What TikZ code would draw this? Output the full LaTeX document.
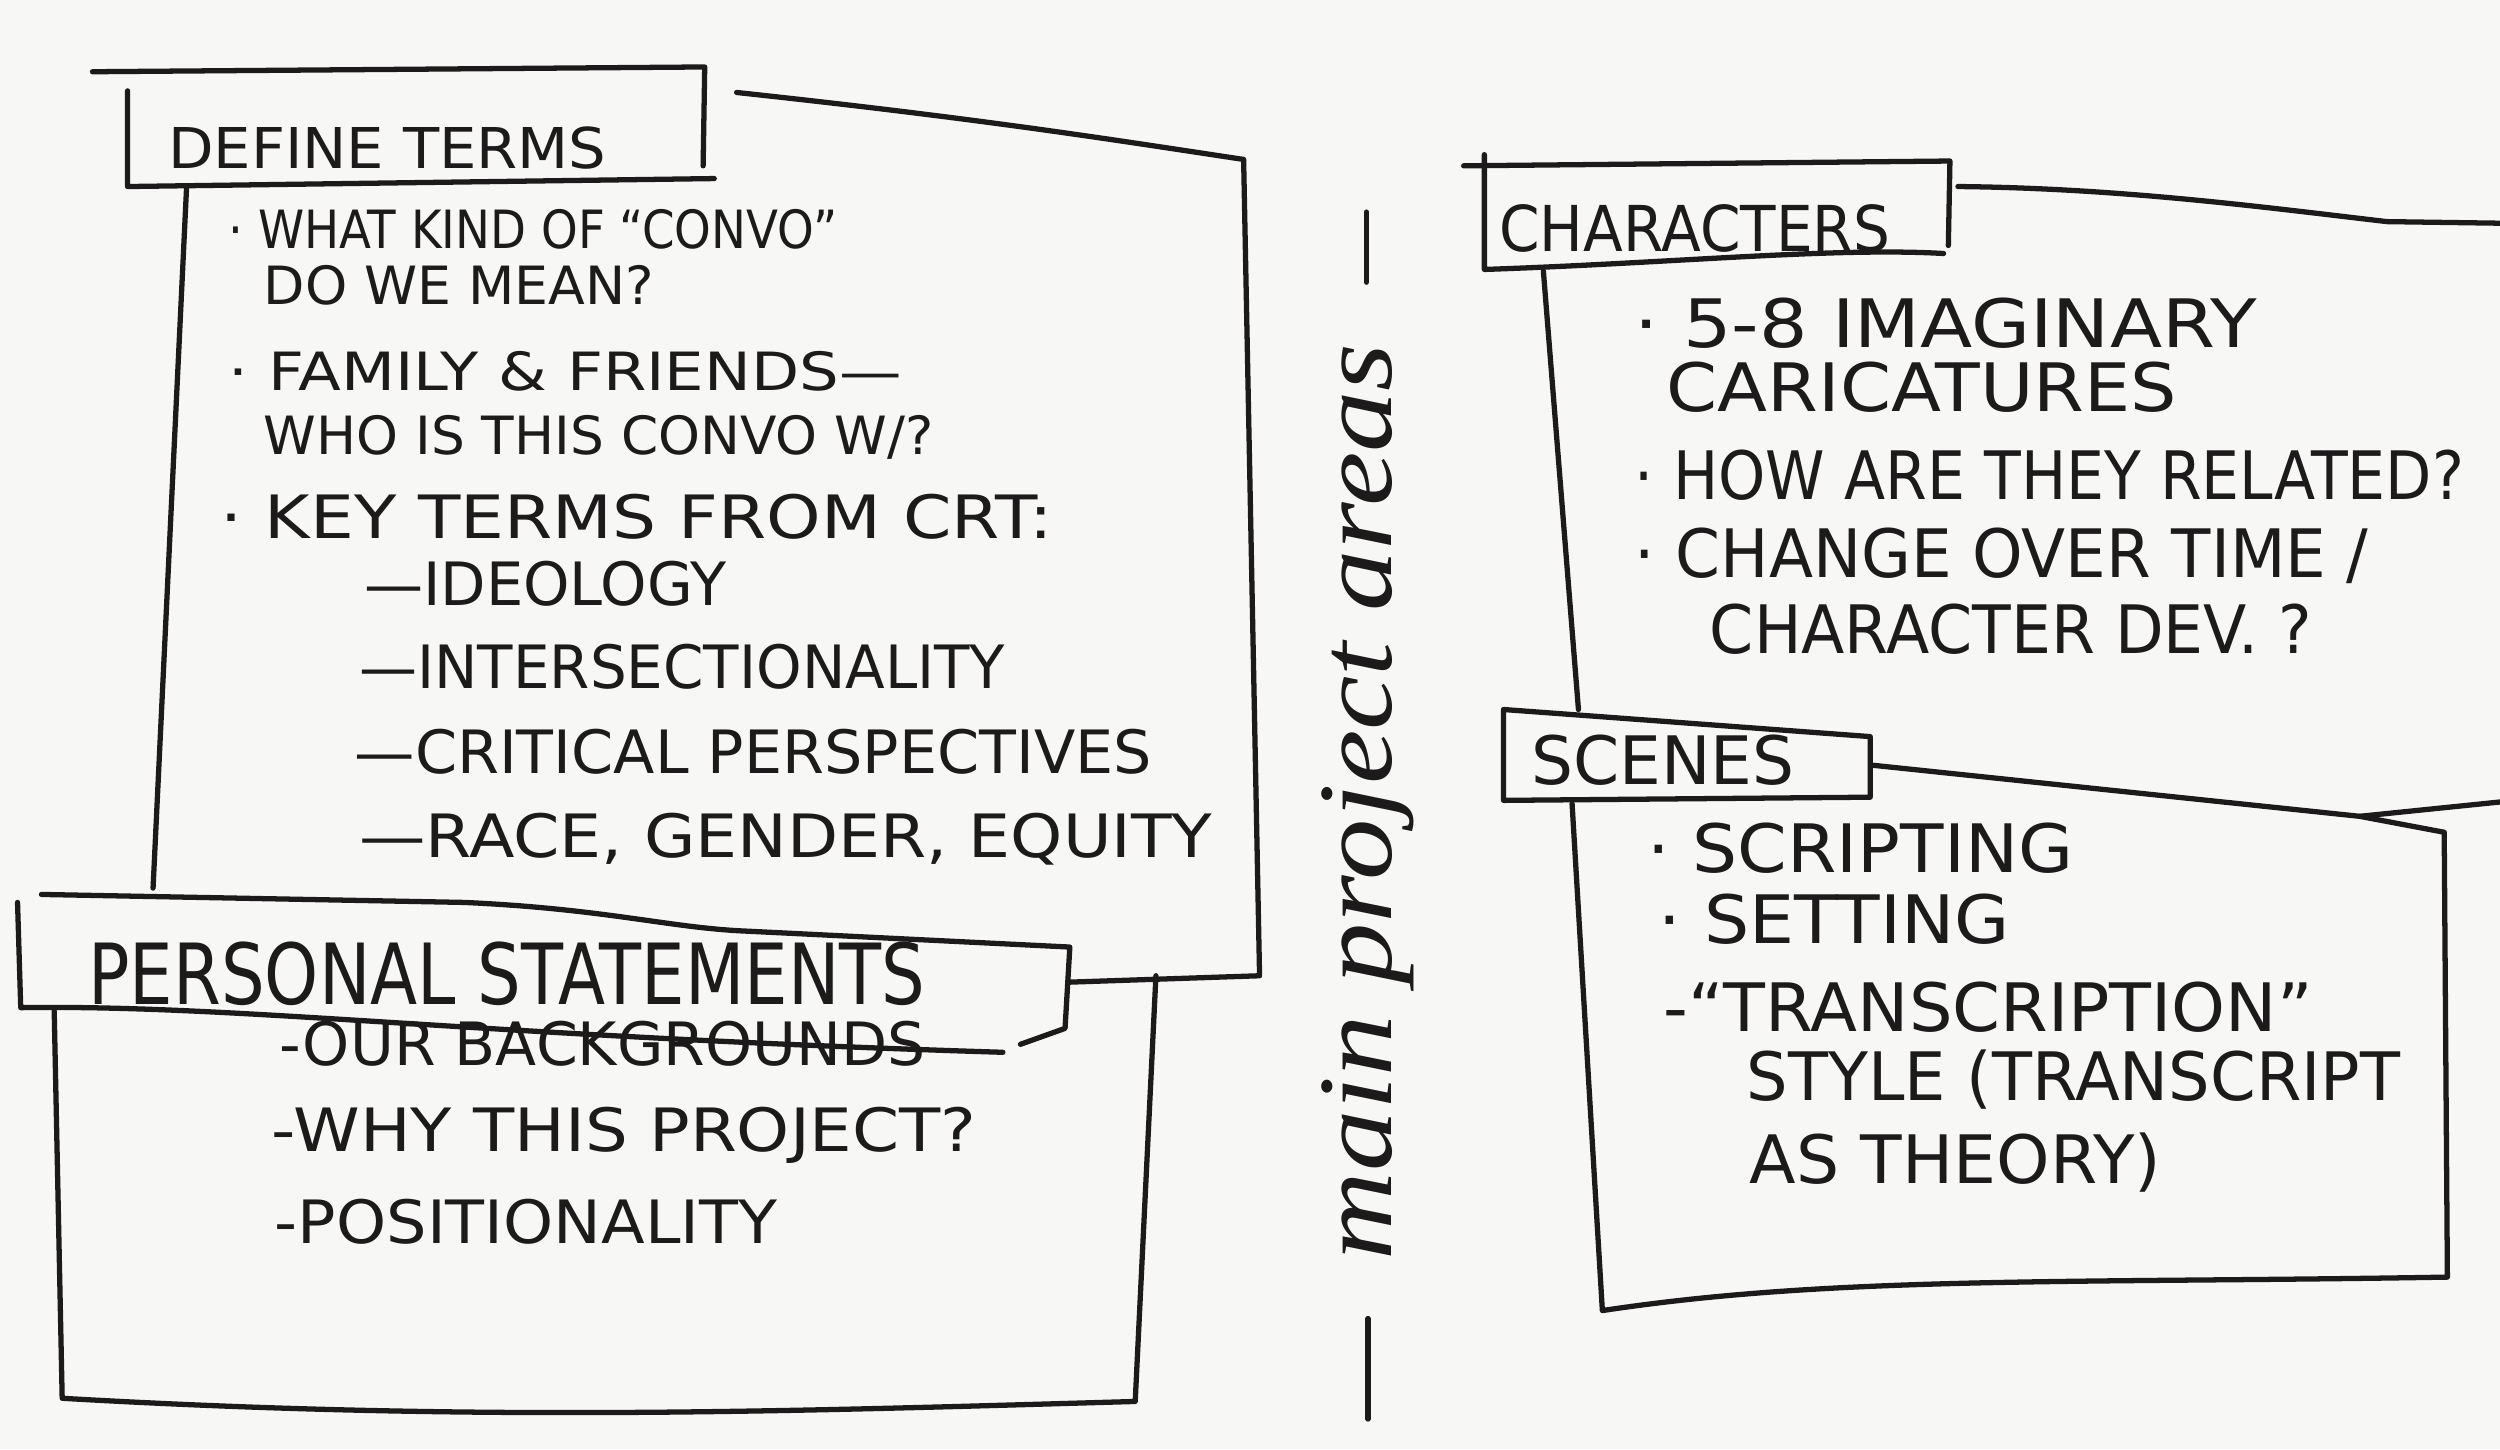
\documentclass[tikz,border=0pt]{standalone}
\usepackage{fontspec}
\usepackage{graphicx}
\setmainfont{DejaVu Sans}
\newfontfamily\cursive{Liberation Serif}
\definecolor{paper}{RGB}{247,247,245}
\definecolor{ink}{RGB}{28,26,26}
\newlength{\pxlen}
\setlength{\pxlen}{0.15944mm}
\newcommand{\hand}[2]{\resizebox{#1\pxlen}{\height}{#2}}

\begin{document}
\begin{tikzpicture}[x=0.15944mm,y=-0.15944mm,
  pen/.style={draw=ink,line width=1.5pt,line cap=round,line join=round},
  txt/.style={anchor=base west,inner sep=0pt,text=ink},
  smallfont/.style={txt,font=\fontsize{15}{17}\selectfont},
  deffont/.style={txt,font=\fontsize{17}{19}\selectfont},
  perfont/.style={txt,font=\fontsize{17}{19}\selectfont},
  rightfont/.style={txt,font=\fontsize{19}{21}\selectfont}]
\fill[paper] (0,0) rectangle (1568,909);
\useasboundingbox (0,0) rectangle (1568,909);
\draw[pen] (58,45) -- (442,42) -- (441,104);
\draw[pen] (80,57) -- (80,117) -- (448,112);
\draw[pen] (462,58) .. controls (620,75) and (700,88) .. (780,100) -- (790,612) -- (671,616);
\draw[pen] (117,118) -- (96,557);
\node[txt,font=\fontsize{16}{18}\selectfont] (defttl) at (105,106) {\hand{275}{DEFINE TERMS}};
\node[smallfont] (def1) at (143,156) {\hand{382}{· WHAT KIND OF “CONVO”}};
\node[smallfont] (def2) at (165,191) {\hand{245}{DO WE MEAN?}};
\node[smallfont] (def3) at (143,245) {\hand{422}{· FAMILY \& FRIENDS—}};
\node[smallfont] (def4) at (165,285) {\hand{420}{WHO IS THIS CONVO W/?}};
\node[deffont] (def5) at (138,338) {\hand{522}{· KEY TERMS FROM CRT:}};
\node[deffont] (def6) at (228,380) {\hand{227}{—IDEOLOGY}};
\node[deffont] (def7) at (225,432) {\hand{405}{—INTERSECTIONALITY}};
\node[deffont] (def8) at (222,485) {\hand{500}{—CRITICAL PERSPECTIVES}};
\node[deffont] (def9) at (225,538) {\hand{535}{—RACE, GENDER, EQUITY}};
\draw[pen] (26,561) -- (291,566) .. controls (380,570) and (420,582) .. (468,584) -- (671,594) -- (668,645) -- (640,655);
\draw[pen] (11,566) -- (13,632) .. controls (150,630) and (300,650) .. (629,660);
\draw[pen] (34,634) -- (39,877) .. controls (300,892) and (500,885) .. (712,879) -- (725,612);
\node[txt,font=\fontsize{24}{26}\selectfont] (perttl) at (55,630) {\hand{525}{PERSONAL STATEMENTS}};
\node[perfont] (per1) at (175,668) {\hand{405}{-OUR BACKGROUNDS}};
\node[perfont] (per2) at (170,722) {\hand{442}{-WHY THIS PROJECT?}};
\node[perfont] (per3) at (172,780) {\hand{315}{-POSITIONALITY}};
\draw[pen] (857,133) -- (857,177);
\node[rotate=90,inner sep=0pt,text=ink,font=\cursive\itshape\fontsize{30}{32}\selectfont] (areas) at (858,503) {\hand{575}{main project areas}};
\draw[pen] (858,827) -- (858,890);
\draw[pen] (918,104) -- (1223,101) -- (1222,154);
\draw[pen] (931,97) -- (931,169) .. controls (1050,165) and (1150,155) .. (1219,159);
\draw[pen] (1228,117) .. controls (1330,118) and (1420,130) .. (1497,139) -- (1568,140);
\draw[pen] (968,170) -- (990,445);
\node[txt,font=\fontsize{18}{20}\selectfont] (chrttl) at (940,158) {\hand{245}{CHARACTERS}};
\node[rightfont] (chr1) at (1025,218) {\hand{390}{· 5-8 IMAGINARY}};
\node[rightfont] (chr2) at (1045,258) {\hand{320}{CARICATURES}};
\node[rightfont] (chr3) at (1025,313) {\hand{520}{· HOW ARE THEY RELATED?}};
\node[rightfont] (chr4) at (1025,362) {\hand{460}{· CHANGE OVER TIME /}};
\node[rightfont] (chr5) at (1072,410) {\hand{378}{CHARACTER DEV. ?}};
\draw[pen] (943,445) -- (1173,462) -- (1173,500) -- (943,502) -- cycle;
\draw[pen] (1175,480) -- (1480,512) -- (1533,522) -- (1535,801) .. controls (1300,805) and (1150,800) .. (1005,822) -- (986,504);
\draw[pen] (1480,512) -- (1568,503);
\node[txt,font=\fontsize{19}{21}\selectfont] (scnttl) at (960,492) {\hand{165}{SCENES}};
\node[rightfont] (scn1) at (1033,547) {\hand{267}{· SCRIPTING}};
\node[rightfont] (scn2) at (1040,592) {\hand{220}{· SETTING}};
\node[rightfont] (scn3) at (1043,647) {\hand{407}{-“TRANSCRIPTION”}};
\node[rightfont] (scn4) at (1095,690) {\hand{410}{STYLE (TRANSCRIPT}};
\node[rightfont] (scn5) at (1097,742) {\hand{258}{AS THEORY)}};
\end{tikzpicture}
\end{document}
